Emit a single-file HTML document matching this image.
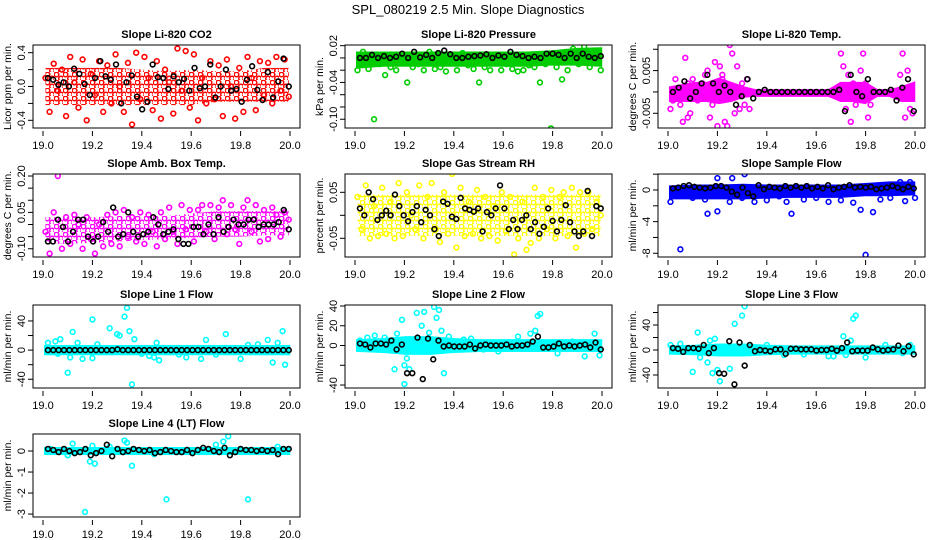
<!DOCTYPE html>
<html><head><meta charset="utf-8"><title>SPL_080219 2.5 Min. Slope Diagnostics</title>
<style>
html,body{margin:0;padding:0;background:#fff;}
svg{display:block;font-family:"Liberation Sans",Arial,sans-serif;}
</style></head>
<body>
<svg id="chart" width="936" height="540" viewBox="0 0 936 540" xmlns="http://www.w3.org/2000/svg">
<rect width="936" height="540" fill="#fff"/>
<text x="468" y="14" font-size="13" text-anchor="middle">SPL_080219  2.5 Min. Slope Diagnostics</text>
</svg>
<script>
// ---- data (top level) ----
const xTicks=[19.0,19.2,19.4,19.6,19.8,20.0];
const titles=["Slope Li-820 CO2","Slope Li-820 Pressure","Slope Li-820 Temp.","Slope Amb. Box Temp.","Slope Gas Stream RH","Slope Sample Flow","Slope Line 1 Flow","Slope Line 2 Flow","Slope Line 3 Flow","Slope Line 4 (LT) Flow"];
const yTitles=["Licor ppm per min.","kPa per min.","degrees C per min.","degrees C per min.","percent per min.","ml/min per min.","ml/min per min.","ml/min per min.","ml/min per min.","ml/min per min."];
const colors=["#ff0000","#00cd00","#ff00ff","#ff00ff","#ffff00","#0000ff","#00ffff","#00ffff","#00ffff","#00ffff"];
const yDomains=[[-0.491,0.491],[-0.1143,0.0211],[-0.00845,0.011],[-0.134,0.2083],[-0.0906,0.0898],[-8.47,2.02],[-52,61.9],[-43,41],[-60.8,72],[-3.14,0.81]];
const yTickVals=[[-0.4,-0.2,0,0.2,0.4],[0.02,0,-0.02,-0.04,-0.06,-0.08,-0.10],[0.010,0.005,0,-0.005],[0.20,0.15,0.10,0.05,0,-0.05,-0.10],[0.05,0,-0.05],[2,0,-2,-4,-6,-8],[40,20,0,-20,-40],[40,20,0,-20,-40],[60,40,20,0,-20,-40],[0,-1,-2,-3]];
const yTickLabels=[["-0.4","","0.0","","0.4"],["0.02","","","-0.04","","","-0.10"],["","0.005","","-0.005"],["0.20","","","0.05","","","-0.10"],["0.05","","-0.05"],["","0","","-4","","-8"],["40","","0","","-40"],["40","20","0","","-40"],["","40","","0","","-40"],["0","-1","-2","-3"]];
const bandLo=[
[-0.22,-0.22,-0.22,-0.22,-0.22,-0.22,-0.22,-0.18,-0.18,-0.18,-0.18],
[-0.015,-0.012,-0.012,-0.012,-0.012,-0.012,-0.012,-0.012,-0.01,-0.01,-0.012],
[-0.002,-0.002,-0.002,-0.002,-0.0025,-0.002,-0.001,-0.0008,-0.0008,-0.0008,-0.0008,-0.0008,-0.0008,-0.0008,-0.002,-0.002,-0.0025,-0.0008,-0.0008,-0.002,-0.002],
[-0.08,-0.08,-0.075,-0.07,-0.065,-0.06,-0.055,-0.05,-0.05,-0.045,-0.045],
[-0.045,-0.045,-0.045,-0.045,-0.045,-0.045,-0.045,-0.045,-0.045,-0.045,-0.045],
[-1,-1,-1,-1,-0.9,-0.8,-0.8,-0.8,-0.6,-0.6,-0.5],
[-5,-5,-5,-5,-5,-5,-5,-5,-5,-5,-5],
[-5,-6,-8,-8,-6,-5,-5,-5,-5,-5,-5],
[-5,-6,-8,-8,-6,-5,-5,-5,-5,-5,-5],
[-0.12,-0.12,-0.12,-0.12,-0.12,-0.12,-0.12,-0.12,-0.12,-0.12,-0.12]];
const bandHi=[
[0.22,0.22,0.22,0.22,0.2,0.18,0.2,0.18,0.18,0.22,0.22],
[0.008,0.008,0.008,0.008,0.008,0.008,0.008,0.008,0.01,0.014,0.015],
[0.001,0.0015,0.002,0.002,0.003,0.002,0.001,0.0003,0.0003,0.0003,0.0003,0.0003,0.0003,0.0003,0.002,0.002,0.002,0.0003,0.0003,0.001,0.002],
[0.03,0.03,0.03,0.035,0.035,0.035,0.045,0.055,0.055,0.055,0.055],
[0.045,0.045,0.045,0.045,0.045,0.045,0.045,0.045,0.045,0.045,0.045],
[0.4,0.5,0.5,0.6,0.5,0.5,0.5,0.5,0.7,0.9,0.9],
[5,5,5,5,5,5,5,5,5,5,5],
[5,6,8,8,6,5,5,5,5,5,5],
[5,6,8,8,6,5,5,5,5,5,5],
[0.12,0.12,0.12,0.12,0.12,0.12,0.12,0.12,0.12,0.12,0.12]];
const bandPattern=[true,false,false,true,true,false,false,false,false,false];
const scatterY=[
[0.1,-0.3,0.27,-0.05,0.2,-0.35,0.35,0.05,-0.25,0.32,-0.4,0.15,-0.1,0.3,-0.3,0.25,-0.2,0.38,0.0,-0.3,0.28,-0.45,0.4,-0.15,0.35,0.1,-0.28,0.3,-0.38,0.2,0.05,-0.32,0.45,-0.05,0.42,-0.25,0.38,-0.4,0.1,-0.2,0.3,-0.15,0.25,-0.35,0.32,0.0,-0.38,0.22,-0.3,0.35,0.1,-0.28,0.3,-0.1,0.28,-0.2,0.35,-0.05,0.32,-0.12],
[-0.02,0.01,-0.018,-0.1,-0.01,-0.028,-0.015,-0.02,0.005,-0.04,-0.015,-0.01,-0.02,0.01,-0.018,-0.015,-0.022,-0.005,-0.02,0.008,-0.012,-0.018,-0.04,-0.015,-0.02,0.005,-0.02,-0.01,-0.018,-0.022,-0.02,-0.012,-0.015,-0.04,-0.01,-0.115,-0.015,-0.035,-0.02,0.015,-0.01,0.018,-0.015,0.012,-0.02],
[-0.004,0.003,-0.003,-0.007,0.008,-0.006,-0.005,0.003,-0.002,0.002,0.005,-0.006,0.007,-0.008,0.006,0.004,-0.007,-0.008,0.011,0.009,-0.005,0.006,0.002,-0.003,-0.004,0.009,0.006,-0.004,0.004,-0.007,-0.003,0.005,0.009,0.002,-0.006,-0.003,0.004,0.009,-0.006,0.005,-0.004,-0.005,-0.002,0.002,0.004,-0.003,0.003,-0.004,0.003,0.002],
[-0.03,-0.12,0.05,0.2,-0.1,0.03,-0.08,0.04,0.0,-0.1,0.03,-0.06,-0.12,0.0,-0.09,0.04,-0.08,0.05,-0.09,0.06,-0.05,0.03,-0.07,0.05,-0.08,0.04,-0.03,-0.09,0.05,-0.06,0.07,-0.03,-0.08,0.08,-0.02,0.06,-0.07,0.06,0.08,-0.03,0.08,-0.06,0.07,0.1,-0.04,0.08,-0.02,-0.08,0.07,0.1,-0.03,0.08,-0.07,0.06,-0.06,0.07,0.04,-0.05,0.05,0.02],
[0.04,-0.03,0.065,-0.05,0.02,-0.045,0.06,-0.04,0.03,-0.05,0.07,-0.045,0.05,0.0,-0.03,0.065,-0.05,0.04,0.07,-0.03,-0.058,0.05,-0.04,0.09,-0.07,0.06,-0.045,0.03,-0.04,0.055,-0.05,0.04,-0.045,0.02,-0.055,0.05,-0.035,0.04,-0.085,-0.05,0.03,-0.075,-0.06,0.06,-0.05,0.04,-0.03,0.055,-0.05,0.04,0.05,-0.045,0.06,-0.07,0.05,-0.04,0.05,-0.03,0.03,0.0],
[-1.5,-7.5,-1.0,-1.2,1.5,-3.0,-2.7,-1.5,1.5,-1.0,2.0,-1.5,-1.3,-0.8,-1.5,-3.0,-1.2,-1.0,-1.5,-1.3,-1.6,-2.5,-8.2,-2.8,-1.2,-1.0,1.0,-1.4,1.0,-1.0],
[10,12,15,-31,-10,25,10,-12,42,-11,30,22,20,46,58,26,-47,15,-8,-10,10,-14,-10,-12,14,22,-12,8,14,-17,10,26,-20,-5,8,-5,-6,-6,7],
[5,8,10,8,-24,12,26,-20,-39,-13,-24,33,20,34,13,39,28,36,15,-28,9,6,7,-4,-6,9,12,15,30,32,-8,4,-11,12,-10],
[8,10,-35,28,-12,-20,15,-37,18,-32,-50,-30,42,55,70,-5,8,-8,-7,-10,-10,22,-8,15,50,55,-12,8,-5,8],
[0.1,-0.2,0.35,-0.5,0.25,-0.6,-2.9,0.2,0.5,0.4,-0.7,-2.3,0.3,0.45,0.7,-2.3,0.2,-0.2,-0.15]];
const scatterX=[null,null,
[19.01,19.03,19.05,19.06,19.07,19.08,19.09,19.1,19.12,19.14,19.16,19.17,19.19,19.2,19.21,19.22,19.23,19.24,19.25,19.26,19.27,19.28,19.3,19.31,19.33,19.7,19.71,19.72,19.73,19.74,19.76,19.78,19.79,19.8,19.81,19.82,19.94,19.95,19.96,19.97,19.98,19.99,19.02,19.08,19.15,19.18,19.22,19.29,19.32,19.75],
null,null,
[19.01,19.05,19.1,19.15,19.2,19.16,19.2,19.25,19.26,19.3,19.31,19.35,19.4,19.45,19.48,19.5,19.55,19.6,19.65,19.7,19.75,19.78,19.8,19.83,19.86,19.9,19.94,19.96,19.98,20.0],
[19.02,19.05,19.07,19.1,19.11,19.12,19.14,19.16,19.2,19.2,19.27,19.3,19.31,19.33,19.34,19.35,19.36,19.37,19.43,19.45,19.46,19.47,19.58,19.64,19.66,19.74,19.8,19.87,19.91,19.93,19.95,19.97,19.98,19.06,19.22,19.4,19.55,19.7,19.83],
[19.02,19.05,19.08,19.12,19.16,19.17,19.19,19.2,19.2,19.21,19.22,19.25,19.27,19.28,19.3,19.32,19.33,19.34,19.35,19.36,19.38,19.44,19.47,19.52,19.58,19.66,19.71,19.73,19.74,19.75,19.82,19.88,19.93,19.97,19.99],
[19.01,19.05,19.1,19.12,19.13,19.16,19.17,19.18,19.19,19.2,19.21,19.25,19.27,19.3,19.31,19.33,19.4,19.47,19.55,19.65,19.67,19.71,19.72,19.74,19.75,19.76,19.8,19.88,19.95,19.98],
[19.03,19.1,19.12,19.19,19.2,19.21,19.17,19.27,19.33,19.34,19.36,19.5,19.7,19.73,19.75,19.83,19.95,19.1,19.45]];
const blackY=[
[0.1,0.08,0.02,0.05,0.0,0.21,0.15,0.03,-0.1,0.1,0.3,0.12,0.08,0.26,-0.2,0.05,0.13,-0.12,-0.27,-0.18,0.26,0.11,0.1,-0.03,0.12,0.05,0.09,-0.05,0.22,-0.02,0.0,0.26,-0.13,0.0,0.2,-0.05,-0.03,-0.18,0.08,0.24,-0.04,-0.16,0.17,-0.13,0.06,0.33,0.0],
[0.0,0.0,0.005,0.0,0.003,0.0,0.002,0.007,0.0,0.01,0.001,0.005,0.0,0.008,0.012,0.006,0.0,0.0,0.002,0.003,0.004,0.006,0.0,0.004,0.002,0.01,0.005,0.003,0.0,0.002,0.0,0.007,0.007,0.005,0.0,0.007,0.0,0.007,0.002,0.0,0.003],
[0.0,0.001,0.0025,-0.0015,0.0,0.002,0.004,0.002,0.0,0.0015,0.0,-0.003,-0.001,0.003,-0.0015,0.0,0.0005,0.0,0.0,0.0,0.0,0.0,0.0,0.0,0.0,0.0,0.0,0.0,0.0,0.0005,-0.0045,0.004,0.0,-0.001,0.003,0.0,0.0,0.0,0.0005,-0.002,0.001,0.003,-0.0045],
[-0.07,-0.07,0.02,-0.01,-0.07,-0.03,0.02,0.02,-0.05,-0.07,-0.05,0.01,-0.03,0.07,-0.05,-0.04,0.05,-0.03,-0.05,-0.04,-0.03,0.03,0.0,-0.04,-0.03,-0.02,-0.06,-0.08,-0.08,-0.01,-0.01,-0.04,0.0,-0.04,0.03,-0.03,-0.01,0.02,0.0,0.0,0.02,0.02,-0.01,0.0,0.0,0.0,0.01,0.06,-0.02],
[0.015,0.0,0.05,0.035,-0.01,0.0,0.01,0.0,0.045,0.02,0.0,-0.013,0.007,0.02,-0.015,0.012,0.0,-0.03,-0.045,0.03,0.025,-0.003,-0.008,0.038,0.015,0.012,0.008,0.015,-0.035,0.007,0.0,0.015,0.065,0.015,-0.03,-0.01,-0.03,-0.01,0.0,-0.03,-0.015,-0.04,-0.025,0.015,-0.012,-0.035,-0.01,0.022,-0.015,-0.035,-0.045,-0.035,0.053,-0.045,0.02,0.015],
[0.2,0.3,0.5,0.6,0.4,0.3,0.2,0.3,0.5,0.5,0.3,-0.2,-0.6,0.3,-0.4,-0.8,0.6,0.1,0.4,0.3,0.2,0.5,0.3,0.5,0.3,0.5,0.2,0.4,0.2,0.6,0.1,0.3,0.4,0.6,0.3,0.4,0.3,0.4,0.1,0.2,0.3,0.5,0.3,0.1,0.4,0.2],
[0,0,0,0,0,0,0,0,0,0,0,0,0,1,0,0,0,0,0,0,0,0,0,0,0,0,0,0,0,0,0,0,0,0,0,0,0,0,0,0,0,0,0,0,0,0],
[2,1,-2,2,2,1,5,-4,1,-28,-28,8,-34,7,-14,5,-1,0,-1,-1,-1,1,-3,0,1,0,0,0,1,-1,0,0,1,4,9,-2,-2,-1,2,-1,0,-1,0,1,-2,3,-4],
[3,2,-3,3,3,2,8,-5,3,-37,-38,14,-55,12,-25,8,-2,0,-1,-2,1,1,-6,2,2,1,1,1,-1,0,0,2,-1,3,12,-2,-1,-1,-1,4,1,-1,0,1,7,-2,6,-7],
[0.1,0.05,-0.05,0.1,0.0,-0.1,-0.05,0.1,-0.2,-0.1,0.0,0.3,-0.25,0.1,-0.05,0.0,0.1,0.05,0.0,0.05,-0.1,-0.05,0.05,0.0,-0.05,-0.05,0.05,-0.1,0.05,0.15,0.1,0.0,-0.05,0.15,-0.2,-0.05,0.1,0.05,0.05,0.0,0.05,0.0,0.05,-0.15,0.1,0.1]];

// ---- layout ----
const NS="http://www.w3.org/2000/svg";
const svg=document.getElementById('chart');
const colLeft=[33,345,658], rowTop=[45,174,305,434], W=267, H=83;
function mk(tag,attrs,parent){const e=document.createElementNS(NS,tag);for(const k in attrs)e.setAttribute(k,attrs[k]);(parent||svg).appendChild(e);return e;}
const defs=mk('defs',{});

titles.forEach((t,i)=>{
  const L=colLeft[i%3], T=rowTop[Math.floor(i/3)];
  const xs=v=>L+10+(v-19)*247;
  const [y0,y1]=yDomains[i];
  const ys=v=>T+(y1-v)/(y1-y0)*H;
  const g=mk('g',{});
  
  
  const clip=mk('clipPath',{id:'c'+i},defs);
  mk('rect',{x:L,y:T,width:W,height:H},clip);
  let fill=colors[i];
  if(bandPattern[i]){
    const p=mk('pattern',{id:'p'+i,width:9,height:8,patternUnits:'userSpaceOnUse'},defs);
    mk('circle',{cx:2.5,cy:2.5,r:2.3,fill:'none',stroke:colors[i],'stroke-width':1.5},p);
    mk('circle',{cx:7,cy:6.5,r:2.3,fill:'none',stroke:colors[i],'stroke-width':1.5},p);
    fill='url(#p'+i+')';
  }
  const plot=mk('g',{'clip-path':'url(#c'+i+')'},g);
  const lo=bandLo[i], hi=bandHi[i], n=lo.length;
  let pts=[];
  for(let k=0;k<n;k++)pts.push(xs(19.01+k*0.985/(n-1))+','+ys(hi[k]));
  for(let k=n-1;k>=0;k--)pts.push(xs(19.01+k*0.985/(n-1))+','+ys(lo[k]));
  const band=mk('polygon',{points:pts.join(' '),fill:fill,stroke:bandPattern[i]?'none':colors[i],'stroke-width':3},plot);
  
  
  const sy=scatterY[i], sx=scatterX[i];
  sy.forEach((v,k)=>{
    const xv=sx?sx[k]:19.01+k*0.985/(sy.length-1);
    const c=mk('circle',{cx:xs(xv),cy:ys(v),r:2.4,fill:'none',stroke:colors[i],'stroke-width':1.6},plot);
    
    
  });
  const by=blackY[i];
  by.forEach((v,k)=>{
    const xv=19.02+k*0.975/(by.length-1);
    const c=mk('circle',{cx:xs(xv),cy:ys(v),r:2.4,fill:'none',stroke:'#000','stroke-width':1.6},plot);
    
    
  });
  const box=mk('rect',{x:L,y:T,width:W,height:H,fill:'none',stroke:'#000','stroke-width':1},g);
  
  
  const tt=mk('text',{x:L+W/2,y:T-7,'font-size':11,'font-weight':'bold','text-anchor':'middle'},g);
  tt.textContent=t;
  
  
  xTicks.forEach(v=>{
    mk('line',{x1:xs(v),x2:xs(v),y1:T+H+3,y2:T+H+8,stroke:'#000'},g);
    const lb=mk('text',{x:xs(v),y:T+H+21,'font-size':11,'text-anchor':'middle'},g);
    lb.textContent=v.toFixed(1);
    
    
  });
  yTickVals[i].forEach((v,k)=>{
    const y=ys(v);
    mk('line',{x1:L-5,x2:L,y1:y,y2:y,stroke:'#000'},g);
    const s=yTickLabels[i][k];
    if(s){
      const lb=mk('text',{x:0,y:0,'font-size':11,'text-anchor':'middle',transform:'translate('+(L-8)+','+y+') rotate(-90)'},g);
      lb.textContent=s;
      
      
    }
  });
  const yt=mk('text',{x:0,y:0,'font-size':10.5,'text-anchor':'middle',transform:'translate('+(L-22)+','+(T+H/2)+') rotate(-90)'},g);
  yt.textContent=yTitles[i];
  
  
});
</script>
</body></html>
